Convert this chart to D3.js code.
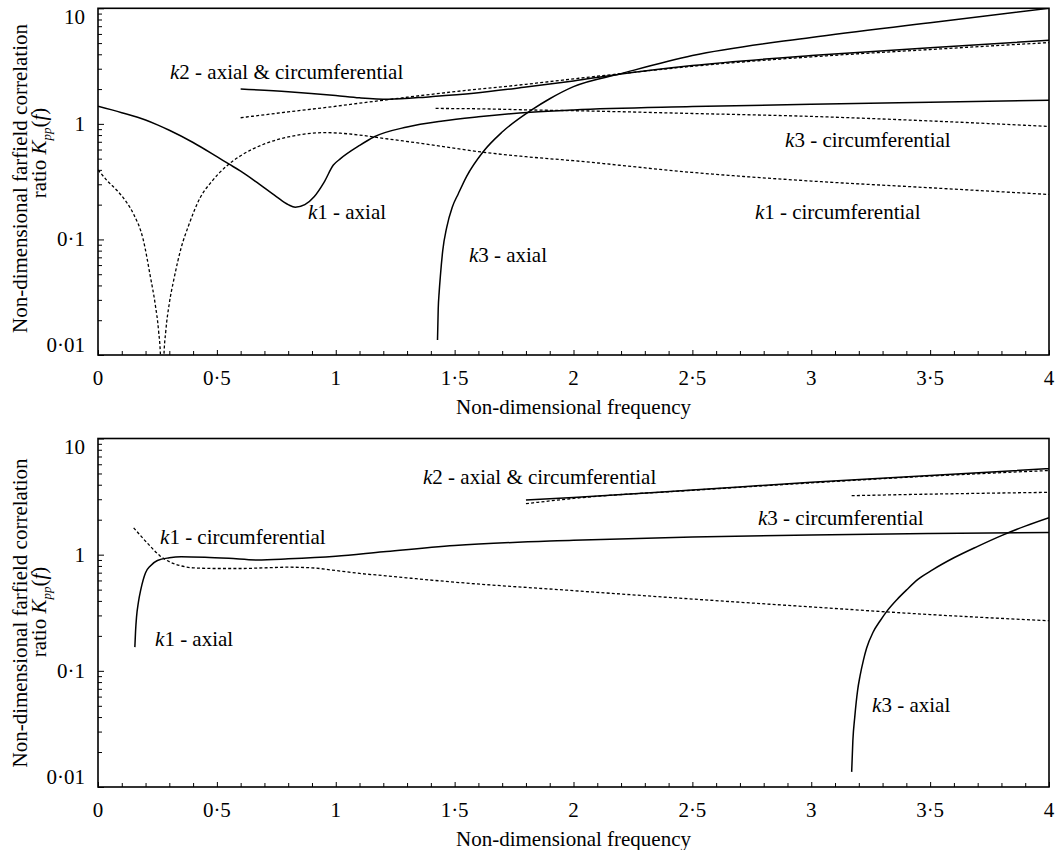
<!DOCTYPE html>
<html>
<head>
<meta charset="utf-8">
<script src="https://cdn.jsdelivr.net/npm/d3@7"></script>
<style>
  body { margin: 0; background: #fff; }
</style>
</head>
<body>
<svg id="chart" width="1063" height="850"></svg>
<script>
// ---- axis ticks ----
const xTicks = [0, 0.5, 1, 1.5, 2, 2.5, 3, 3.5, 4];
const xTickLabels = ["0", "0·5", "1", "1·5", "2", "2·5", "3", "3·5", "4"];
const yTicks = [0.01, 0.1, 1, 10];
const yTickLabels = ["0·01", "0·1", "1", "10"];

// ---- upper panel series: [frequency, ratio] ----
const upperK1Axial = [[0,1.42],[0.1,1.25],[0.2,1.08],[0.25,0.98],[0.3,0.88],[0.4,0.69],[0.5,0.52],[0.55,0.45],[0.6,0.39],[0.67,0.31],[0.75,0.235],[0.8,0.2],[0.83,0.19],[0.87,0.2],[0.91,0.235],[0.95,0.31],[0.99,0.44],[1.02,0.5],[1.1,0.65],[1.16,0.77],[1.3,0.94],[1.45,1.06],[1.6,1.15],[1.82,1.26],[2.0,1.32],[2.5,1.41],[3.0,1.48],[3.5,1.54],[4.0,1.6]];
const upperK1Circ = [[0,0.40],[0.04,0.32],[0.08,0.265],[0.12,0.21],[0.15,0.165],[0.19,0.1],[0.22,0.048],[0.24,0.028],[0.255,0.016],[0.263,0.0095],[0.27,0.002],[0.277,0.0095],[0.285,0.016],[0.3,0.028],[0.32,0.046],[0.35,0.085],[0.38,0.13],[0.43,0.23],[0.48,0.32],[0.54,0.43],[0.6,0.53],[0.7,0.67],[0.8,0.77],[0.9,0.83],[0.95,0.84],[1.02,0.83],[1.1,0.8],[1.2,0.75],[1.4,0.66],[1.6,0.575],[1.8,0.52],[2.0,0.48],[2.5,0.38],[3.0,0.32],[3.5,0.28],[4.0,0.245]];
const upperK2Axial = [[0.6,2.0],[0.8,1.9],[1.0,1.76],[1.1,1.68],[1.22,1.63],[1.4,1.72],[1.58,1.84],[1.8,2.08],[2.0,2.35],[2.2,2.7],[2.5,3.2],[3.0,3.9],[3.5,4.55],[4.0,5.3]];
const upperK2Circ = [[0.6,1.13],[0.8,1.27],[1.0,1.42],[1.1,1.51],[1.2,1.6],[1.3,1.7],[1.5,1.9],[1.8,2.2],[2.0,2.45],[2.2,2.72],[2.5,3.15],[3.0,3.8],[3.5,4.4],[4.0,5.05]];
const upperK3Axial = [[1.428,0.0135],[1.431,0.025],[1.435,0.035],[1.44,0.048],[1.45,0.08],[1.467,0.128],[1.49,0.19],[1.516,0.25],[1.55,0.35],[1.62,0.574],[1.7,0.85],[1.824,1.32],[1.9,1.65],[2.0,2.1],[2.2,2.72],[2.5,3.9],[3.0,5.6],[3.5,7.5],[4.0,10]];
const upperK3Circ = [[1.42,1.36],[1.6,1.35],[1.82,1.32],[2.0,1.3],[2.5,1.23],[3.0,1.16],[3.5,1.06],[4.0,0.95]];

// ---- lower panel series ----
const lowerK1Axial = [[0.155,0.16],[0.158,0.22],[0.162,0.29],[0.17,0.39],[0.18,0.5],[0.2,0.7],[0.22,0.8],[0.25,0.89],[0.3,0.94],[0.35,0.96],[0.45,0.95],[0.55,0.93],[0.67,0.9],[0.8,0.92],[1.0,0.97],[1.2,1.06],[1.5,1.2],[2.0,1.33],[2.5,1.42],[3.0,1.48],[3.5,1.52],[4.0,1.55]];
const lowerK1Circ = [[0.15,1.7],[0.18,1.45],[0.22,1.18],[0.26,0.98],[0.3,0.87],[0.35,0.8],[0.4,0.77],[0.5,0.76],[0.6,0.76],[0.7,0.77],[0.8,0.78],[0.9,0.77],[1.0,0.73],[1.1,0.69],[1.2,0.66],[1.5,0.58],[2.0,0.49],[2.5,0.415],[3.0,0.355],[3.5,0.305],[4.0,0.27]];
const lowerK2Axial = [[1.8,2.95],[2.0,3.1],[2.5,3.6],[3.0,4.2],[3.5,4.8],[4.0,5.5]];
const lowerK2Circ = [[1.8,2.75],[1.9,2.9],[2.0,3.05],[2.5,3.58],[3.0,4.15],[3.5,4.75],[4.0,5.3]];
const lowerK3Axial = [[3.17,0.0135],[3.175,0.025],[3.183,0.04],[3.195,0.068],[3.205,0.09],[3.22,0.125],[3.233,0.157],[3.26,0.215],[3.29,0.27],[3.32,0.33],[3.36,0.41],[3.4,0.495],[3.45,0.615],[3.51,0.74],[3.6,0.94],[3.7,1.18],[3.8,1.46],[3.9,1.76],[4.0,2.08]];
const lowerK3Circ = [[3.17,3.22],[3.5,3.32],[4.0,3.44]];

// ---- curve annotations: [frequency, ratio] anchor of the text start ----
const upperNotes = [
  { k: "k2", rest: " - axial & circumferential", at: [0.303, 2.44] },
  { k: "k1", rest: " - axial", at: [0.883, 0.15] },
  { k: "k3", rest: " - axial", at: [1.56, 0.064] },
  { k: "k3", rest: " - circumferential", at: [2.89, 0.63] },
  { k: "k1", rest: " - circumferential", at: [2.763, 0.15] }
];
const lowerNotes = [
  { k: "k2", rest: " - axial & circumferential", at: [1.367, 4.05] },
  { k: "k1", rest: " - circumferential", at: [0.261, 1.23] },
  { k: "k1", rest: " - axial", at: [0.24, 0.163] },
  { k: "k3", rest: " - circumferential", at: [2.776, 1.8] },
  { k: "k3", rest: " - axial", at: [3.256, 0.0442] }
];

const FONT = "'Liberation Serif', 'DejaVu Serif', serif";
const FS = 21;
const left = 98, right = 1049;

const panels = [
  { top: 8.3, bottom: 355, tickBase: 385, titleBase: 414, yTitle1: 178.5, yTitle2: 153,
    lines: [
      { d: upperK1Axial, dash: false }, { d: upperK1Circ, dash: true },
      { d: upperK2Axial, dash: false }, { d: upperK2Circ, dash: true },
      { d: upperK3Axial, dash: false }, { d: upperK3Circ, dash: true }
    ], notes: upperNotes },
  { top: 438.5, bottom: 787, tickBase: 817, titleBase: 846, yTitle1: 613, yTitle2: 612,
    lines: [
      { d: lowerK1Axial, dash: false }, { d: lowerK1Circ, dash: true },
      { d: lowerK2Axial, dash: false }, { d: lowerK2Circ, dash: true },
      { d: lowerK3Axial, dash: false }, { d: lowerK3Circ, dash: true }
    ], notes: lowerNotes }
];

const svg = d3.select("#chart");

// minor log ticks 2..9 within each decade
const yMinor = [];
[0.01, 0.1, 1].forEach(dec => { for (let m = 2; m <= 9; m++) yMinor.push(dec * m); });
const xMinor = d3.range(0, 41).map(i => i / 10).filter(v => Math.abs(v * 2 - Math.round(v * 2)) > 1e-6);

panels.forEach((p, pi) => {
  const x = d3.scaleLinear().domain([0, 4]).range([left, right]);
  const y = d3.scaleLog().domain([0.01, 10]).range([p.bottom, p.top]);
  const g = svg.append("g");

  const clipId = "clip" + pi;
  svg.append("defs").append("clipPath").attr("id", clipId)
    .append("rect").attr("x", left).attr("y", p.top)
    .attr("width", right - left).attr("height", p.bottom - p.top);

  // inward ticks
  const xAxisMajor = d3.axisBottom(x).tickValues(xTicks).tickSizeInner(-5).tickSizeOuter(0).tickFormat("");
  const xAxisMinor = d3.axisBottom(x).tickValues(xMinor).tickSizeInner(-4).tickSizeOuter(0).tickFormat("");
  const yAxisMajor = d3.axisLeft(y).tickValues(yTicks).tickSizeInner(-6).tickSizeOuter(0).tickFormat("");
  const yAxisMinor = d3.axisLeft(y).tickValues(yMinor).tickSizeInner(-4).tickSizeOuter(0).tickFormat("");

  [xAxisMajor, xAxisMinor].forEach(ax => {
    const a = g.append("g").attr("transform", `translate(0,${p.bottom})`).call(ax);
    a.select(".domain").remove();
    a.selectAll("line").attr("stroke", "#000").attr("stroke-width", 1);
  });
  [yAxisMajor, yAxisMinor].forEach(ax => {
    const a = g.append("g").attr("transform", `translate(${left},0)`).call(ax);
    a.select(".domain").remove();
    a.selectAll("line").attr("stroke", "#000").attr("stroke-width", 1);
  });

  // tick labels
  g.selectAll("text.xt").data(xTicks).join("text").attr("class", "xt")
    .attr("x", d => x(d)).attr("y", p.tickBase)
    .attr("text-anchor", "middle").attr("font-family", FONT).attr("font-size", FS)
    .text((d, i) => xTickLabels[i]);

  g.selectAll("text.yt").data(yTicks).join("text").attr("class", "yt")
    .attr("x", left - 13)
    .attr("y", (d, i) => y(d) + 7 + (i === yTicks.length - 1 ? 8.5 : 0) + (i === 0 ? -10 : 0))
    .attr("text-anchor", "end").attr("font-family", FONT).attr("font-size", FS)
    .text((d, i) => yTickLabels[i]);

  // curves
  const line = d3.line().x(d => x(d[0])).y(d => y(d[1])).curve(d3.curveMonotoneX);
  g.append("g").attr("clip-path", `url(#${clipId})`)
    .selectAll("path").data(p.lines).join("path")
    .attr("d", s => line(s.d))
    .attr("fill", "none").attr("stroke", "#000")
    .attr("stroke-width", s => s.dash ? 1.3 : 1.5)
    .attr("stroke-dasharray", s => s.dash ? "3,2.2" : null);

  // frame
  g.append("rect").attr("x", left).attr("y", p.top)
    .attr("width", right - left).attr("height", p.bottom - p.top)
    .attr("fill", "none").attr("stroke", "#000").attr("stroke-width", 1.6);

  // curve annotations
  const notes = g.selectAll("text.note").data(p.notes).join("text").attr("class", "note")
    .attr("x", d => x(d.at[0])).attr("y", d => y(d.at[1]))
    .attr("font-family", FONT).attr("font-size", FS);
  notes.append("tspan").attr("font-style", "italic").text(d => d.k[0]);
  notes.append("tspan").text(d => d.k.slice(1) + d.rest);

  // axis titles
  g.append("text").attr("x", (left + right) / 2).attr("y", p.titleBase)
    .attr("text-anchor", "middle").attr("font-family", FONT).attr("font-size", FS)
    .text("Non-dimensional frequency");

  g.append("text").attr("transform", `translate(27,${p.yTitle1}) rotate(-90)`)
    .attr("text-anchor", "middle").attr("font-family", FONT).attr("font-size", FS)
    .text("Non-dimensional farfield correlation");

  const t2 = g.append("text").attr("transform", `translate(46,${p.yTitle2}) rotate(-90)`)
    .attr("text-anchor", "middle").attr("font-family", FONT).attr("font-size", FS);
  t2.append("tspan").text("ratio ");
  t2.append("tspan").attr("font-style", "italic").text("K");
  t2.append("tspan").attr("font-style", "italic").attr("font-size", 13).attr("dy", 5).text("pp");
  t2.append("tspan").attr("dy", -5).text("(");
  t2.append("tspan").attr("font-style", "italic").text("f");
  t2.append("tspan").text(")");
});
</script>
</body>
</html>
